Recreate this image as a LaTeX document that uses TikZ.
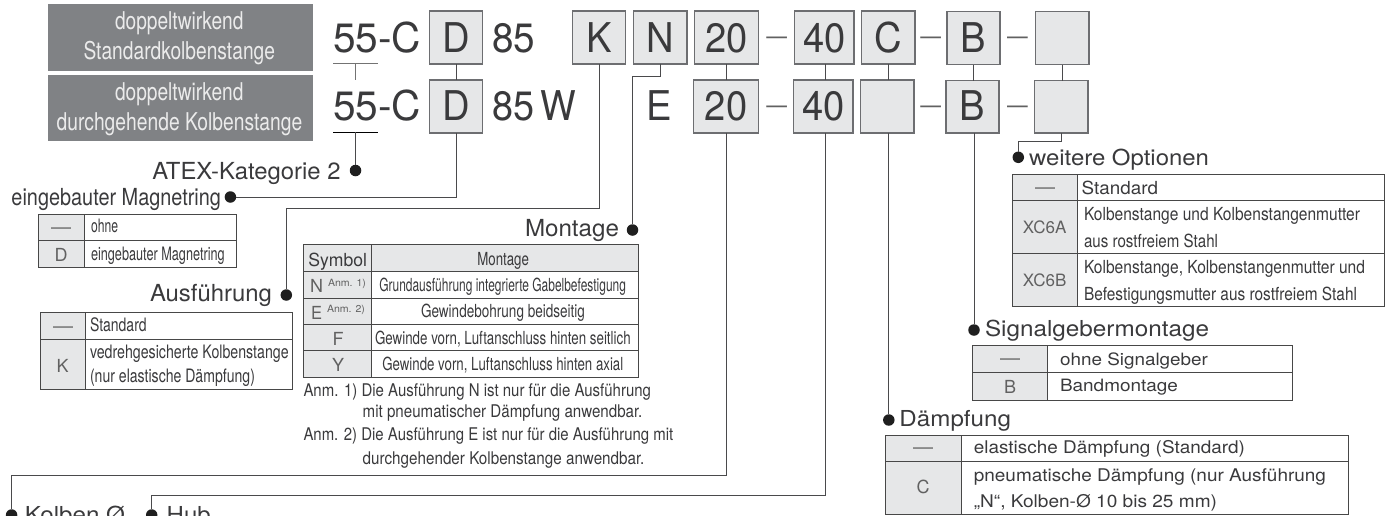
\documentclass[tikz,border=0pt]{standalone}
\usepackage{fontspec}
\usepackage{graphicx}
\setmainfont{TeX Gyre Heros}
\definecolor{ink}{HTML}{3A3A3C}
\definecolor{boxfill}{HTML}{E6E7E8}
\definecolor{boxline}{HTML}{6D6E71}
\definecolor{dark}{HTML}{808285}
\definecolor{wire}{HTML}{4A4A4C}
\newsavebox\fbx
\newcommand\fitw[3]{\fontsize{#2}{#2}\selectfont\sbox\fbx{#3}\pgfmathsetmacro\frt{#1/\the\wd\fbx}\scalebox{\frt}[1]{\usebox\fbx}}
% [opts]{name}{x,y baseline}{width}{size}{text}
\newcommand\tx[6][]{\node[txt,anchor=base west,#1] (#2) at (#3) {\fitw{#4}{#5}{#6}};}
% [opts]{name}{x,y baseline}{size}{text} centred, natural width
\newcommand\ctr[5][]{\node[txt,anchor=base,#1] (#2) at (#3) {\fontsize{#4}{#4}\selectfont #5};}
% big code glyphs: taller and slightly condensed
\newcommand\bigc[3]{\node[txt,anchor=base] (#1) at (#2) {\fontsize{41}{41}\selectfont\scalebox{0.93}[1]{#3}};}
% {x0}{y0}{x1}{y1}{col}{row list}
\newcommand\tbl[6]{%
  \fill[boxfill] (#1,#2) rectangle (#5,#4);
  \draw[tabline] (#1,#2) rectangle (#3,#4);
  \draw[tabline] (#5,#2) -- (#5,#4);
  \foreach \ry in {#6} {\draw[tabline] (#1,\ry) -- (#3,\ry);}
}
% {name}{x0}{x1}{y0}{y1}
\newcommand\cbox[5]{\node[codebox,minimum width=#3pt-#2pt,minimum height=#5pt-#4pt] (#1) at ({(#2+#3)/2},{(#4+#5)/2}) {};}
\tikzset{
  txt/.style={inner sep=0pt,outer sep=0pt,text=ink},
  gr/.style={text=black!62},
  wt/.style={text=white!92!black},
  codebox/.style={draw=boxline,fill=boxfill,line width=1.2pt,inner sep=0pt,outer sep=0pt},
  darkbox/.style={fill=dark,inner sep=0pt,outer sep=0pt},
  tabline/.style={draw=black!72,line width=0.9pt},
  wireln/.style={draw=wire,line width=1pt},
  pin/.style={circle,fill=black!88,inner sep=0pt,minimum size=11.5pt,outer sep=0pt},
}
\begin{document}
\begin{tikzpicture}[x=1pt,y=-1pt]
\useasboundingbox (0,0) rectangle (1392,515);
\begin{scope}
\clip (0,0) rectangle (1392,515);
% grey headings
\node[darkbox,minimum width=265pt,minimum height=67pt] (h1) at (180.5,37.5) {};
\node[darkbox,minimum width=265pt,minimum height=66pt] (h2) at (180.5,108) {};
\tx[wt]{h1a}{115,29.5}{128.5}{24.5}{doppeltwirkend}
\tx[wt]{h1b}{83.5,59}{191.5}{24.5}{Standardkolbenstange}
\tx[wt]{h2a}{115,100}{128.5}{24.5}{doppeltwirkend}
\tx[wt]{h2b}{56.6,130.5}{245.7}{24.5}{durchgehende Kolbenstange}
% code rows
\tx{c1}{333,52}{88}{41}{55-C}
\tx{c2}{333,120.7}{88}{41}{55-C}
\tx{s1}{492,52}{43}{41}{85}
\tx{s2}{492,120.7}{84}{41}{85\,W}
\cbox{d1}{429.5}{482.5}{11}{64}
\cbox{d2}{429.5}{482.5}{80}{133}
\cbox{k1}{572.7}{625.7}{11}{64}
\cbox{n1}{633.7}{687}{11}{64}
\cbox{a1}{694.3}{758.7}{11}{64}
\cbox{a2}{693.3}{758.7}{80}{133}
\cbox{b1}{794.7}{854}{11}{64}
\cbox{b2}{793.7}{853}{80}{133}
\cbox{e1}{861.7}{915}{11}{64}
\cbox{e2}{860.7}{914}{80}{133}
\cbox{f1}{947}{1000}{11.7}{64.7}
\cbox{f2}{946}{999}{80.5}{133}
\cbox{g1}{1035.7}{1089}{11.7}{64.7}
\cbox{g2}{1034.7}{1088}{80.5}{133}
\bigc{td1}{456,52}{D}
\bigc{td2}{456,120.7}{D}
\bigc{tk1}{599.2,52}{K}
\bigc{tn1}{660.3,52}{N}
\bigc{te2}{659.5,120.7}{E}
\bigc{ta1}{726.5,52}{20}
\bigc{ta2}{726,120.7}{20}
\bigc{tb1}{824.3,52}{40}
\bigc{tb2}{823.3,120.7}{40}
\bigc{te1}{888.3,52}{C}
\bigc{tf1}{973.5,52}{B}
\bigc{tf2}{972.5,120.7}{B}
\foreach \nm/\xx/\yy in {q1/766.3/44,q2/920.3/44,q3/1007/44,q4/766.3/113.2,q5/920.3/113.2,q6/1007/113.2}
  {\tx[gr]{\nm}{\xx,\yy}{20.7}{24}{—}}
% pins
\node[pin] (pAtex) at (355.5,170.5) {};
\node[pin] (pMag) at (230.4,197) {};
\node[pin] (pAus) at (286.3,295) {};
\node[pin] (pMon) at (632.5,230) {};
\node[pin] (pKol) at (11.6,515) {};
\node[pin] (pHub) at (151.7,515) {};
\node[pin] (pDae) at (888.8,420) {};
\node[pin] (pSig) at (974,330) {};
\node[pin] (pWei) at (1018.3,157.3) {};
% underline bars
\coordinate (ba) at (333,63.5); \coordinate (bb) at (378,63.5);
\coordinate (bc) at (333,132); \coordinate (bd) at (378,132);
\coordinate (bm) at (355.5,63.5); \coordinate (bn) at (355.5,80);
\coordinate (bo) at (355.5,132);
\draw[wireln,draw=black!55] (ba) -- (bb);
\draw[wireln,draw=black!55] (bm) -- (bn);
\draw[wireln,draw=black] (bc) -- (bd);
\draw[wireln] (bo) -- (pAtex);
% connectors
\draw[wireln] (d1.south) -- (d2.north);
\draw[wireln] (d2.south) |- (pMag);
\coordinate (kel) at (286.3,208.7);
\draw[wireln] (k1.south) |- (kel) -- (pAus);
\coordinate (nel) at (632.5,76.5);
\draw[wireln] (n1.south) |- (nel) -- (pMon);
\draw[wireln] (a1.south) -- (a1.south |- a2.north);
\coordinate (ael) at (11.6,475.7);
\draw[wireln] (a1.south |- a2.south) |- (ael) -- (pKol);
\coordinate (bup) at (825.5,64);
\draw[wireln] (bup) -- (bup |- b2.north);
\coordinate (bel) at (151.7,495.7);
\draw[wireln] (825,133) |- (bel) -- (pHub);
\draw[wireln] (e1.south) -- (e1.south |- e2.north);
\draw[wireln] (pDae |- e2.south) -- (pDae);
\draw[wireln] (f1.south) -- (f1.south |- f2.north);
\draw[wireln] (pSig |- f2.south) -- (pSig);
\draw[wireln] (g1.south) -- (g1.south |- g2.north);
\coordinate (wel) at (1018.3,141.5);
\draw[wireln] (g2.south) |- (wel) -- (pWei);
% titles
\tx{t1}{152.3,179}{188.3}{23.5}{ATEX-Kategorie 2}
\tx{t2}{11.5,205}{209.5}{23.5}{eingebauter Magnetring}
\tx{t3}{150,301.7}{122}{23.5}{Ausführung}
\tx{t4}{525,236.7}{94}{23.5}{Montage}
\tx{t5}{1029,165.7}{180}{22}{weitere Optionen}
\tx{t6}{985,336.7}{224}{22}{Signalgebermontage}
\tx{t7}{899.4,426}{111.6}{22}{Dämpfung}
\tx{t8}{25,522.7}{100}{22}{Kolben Ø}
\tx{t9}{166.7,522.7}{44}{22}{Hub}
% table magnet
\tbl{38.3}{214}{236}{267}{84.3}{240.7}
\tx[gr]{m1}{51,233}{20}{18}{—}
\ctr[gr]{m2}{61,261.7}{18}{D}
\tx{m3}{91,232.7}{27}{18.5}{ohne}
\tx{m4}{91,260}{133.7}{18.5}{eingebauter Magnetring}
% table version
\tbl{40.5}{312.5}{292}{389}{85.7}{339}
\tx[gr]{v1}{53,332}{20}{18}{—}
\ctr[gr]{v2}{62.6,372.7}{18}{K}
\tx{v3}{90,331.7}{56.7}{18.5}{Standard}
\tx{v4}{90,358.3}{198.7}{18.5}{vedrehgesicherte Kolbenstange}
\tx{v5}{90,382.7}{165}{18.5}{(nur elastische Dämpfung)}
% table mount
\tbl{303.3}{244.7}{638.7}{377.3}{371.7}{271.3,298,324.3,350.7}
\fill[boxfill] (371.7,245.2) rectangle (638.2,270.8);
\tx{r0}{308.3,266}{58.7}{18}{Symbol}
\tx{r1}{477.3,265}{51.7}{18}{Montage}
\tx[gr]{r2}{310,292}{13}{18}{N}
\tx[gr]{r3}{328,286}{38}{10}{Anm. 1)}
\tx[gr]{r4}{311,319}{11}{18}{E}
\tx[gr]{r5}{327,312.7}{38}{10}{Anm. 2)}
\ctr[gr]{r6}{338,345}{18}{F}
\ctr[gr]{r7}{338,371.7}{18}{Y}
\tx{r8}{379.3,291}{246.7}{18}{Grundausführung integrierte Gabelbefestigung}
\tx{r9}{421,317.7}{164}{18}{Gewindebohrung beidseitig}
\tx{r10}{375,344}{255.7}{18}{Gewinde vorn, Luftanschluss hinten seitlich}
\tx{r11}{382.3,370.7}{241}{18}{Gewinde vorn, Luftanschluss hinten axial}
\tx{a1t}{303.5,396.7}{347.5}{17.5}{Anm. 1) Die Ausführung N ist nur für die Ausführung}
\tx{a2t}{362.7,417.3}{279.6}{17.5}{mit pneumatischer Dämpfung anwendbar.}
\tx{a3t}{303.5,440.7}{369.8}{17.5}{Anm. 2) Die Ausführung E ist nur für die Ausführung mit}
\tx{a4t}{362.7,464}{281.6}{17.5}{durchgehender Kolbenstange anwendbar.}
% table options
\tbl{1012.3}{174}{1384.3}{306}{1077.3}{200.3,253.3}
\tx[gr]{o1}{1035,193}{20}{18}{—}
\ctr[gr]{o2}{1044.7,233}{17}{XC6A}
\ctr[gr]{o3}{1044.7,286}{17}{XC6B}
\tx{o4}{1081.7,194}{76.3}{18}{Standard}
\tx{o5}{1084,220}{276}{18}{Kolbenstange und Kolbenstangenmutter}
\tx{o6}{1084,247}{134}{18}{aus rostfreiem Stahl}
\tx{o7}{1084,273}{281}{18}{Kolbenstange, Kolbenstangenmutter und}
\tx{o8}{1084,300}{273}{18}{Befestigungsmutter aus rostfreiem Stahl}
% table signal
\tbl{972}{345}{1292.6}{400.3}{1047.8}{372}
\tx[gr]{g1t}{1000,364}{20}{18}{—}
\ctr[gr]{g2t}{1010,393}{18}{B}
\tx{g3t}{1060,365}{148}{17}{ohne Signalgeber}
\tx{g4t}{1060,391}{118}{17}{Bandmontage}
% table damping
\tbl{885}{435}{1348.8}{514}{961.3}{461.3}
\tx[gr]{h1t}{913,453}{20}{18}{—}
\ctr[gr]{h2t}{923,493.5}{18}{C}
\tx{h3t}{973.8,453.5}{271.2}{17.5}{elastische Dämpfung (Standard)}
\tx{h4t}{973.8,481.5}{352.2}{17.5}{pneumatische Dämpfung (nur Ausführung}
\tx{h5t}{973.8,507.5}{243.2}{17.5}{„N“, Kolben-Ø 10 bis 25 mm)}
\end{scope}
\end{tikzpicture}
\end{document}
